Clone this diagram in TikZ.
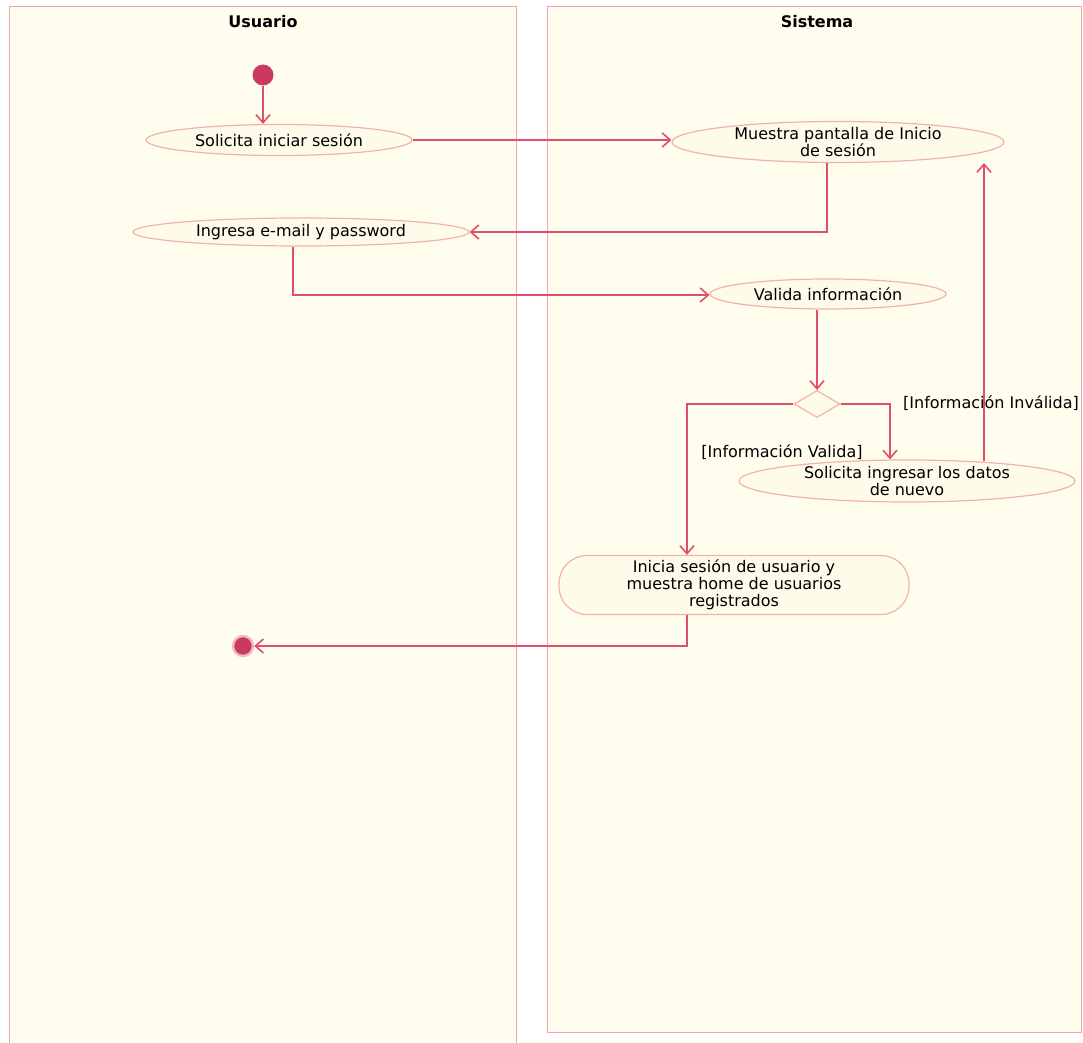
\documentclass[tikz,border=0pt]{standalone}
\usepackage{fontspec}
\setmainfont{DejaVu Sans}
\usetikzlibrary{shapes.geometric,arrows.meta,calc}
\definecolor{lanefill}{HTML}{FFFDEE}
\definecolor{lanedraw}{HTML}{F2A2B4}
\definecolor{conn}{HTML}{E04E6C}
\definecolor{nodedraw}{HTML}{F3B2A6}
\definecolor{nodefill}{HTML}{FFFBEA}
\definecolor{dotcol}{HTML}{C93A5E}
\definecolor{ringcol}{HTML}{F4B8C4}
\begin{document}
\begin{tikzpicture}[x=0.5pt,y=-0.5pt,
  lane/.style={draw=lanedraw,fill=lanefill,line width=0.5pt},
  lanetitle/.style={font=\bfseries\fontsize{8}{9}\selectfont,inner sep=0pt},
  act/.style={ellipse,draw=nodedraw,fill=nodefill,line width=0.6pt,align=center,
    inner xsep=0pt,inner ysep=-2pt,font=\fontsize{8}{8.6}\selectfont},
  actbox/.style={rectangle,rounded corners=14pt,draw=nodedraw,fill=nodefill,line width=0.6pt,
    align=center,inner sep=0pt,font=\fontsize{8}{8.6}\selectfont},
  decision/.style={diamond,draw=nodedraw,fill=nodefill,line width=0.6pt,inner sep=0pt,
    minimum width=23pt,minimum height=13.5pt},
  startdot/.style={circle,fill=dotcol,inner sep=0pt,minimum size=10.5pt},
  enddot/.style={circle,fill=dotcol,draw=ringcol,line width=1.2pt,inner sep=0pt,minimum size=10pt},
  guard/.style={inner sep=1pt,font=\fontsize{8}{8.6}\selectfont},
  flow/.style={draw=conn,line width=0.8pt,-{Straight Barb[length=4pt,width=7pt]}}]

\useasboundingbox (0,0) rectangle (1083,1043);
\fill[white] (0,0) rectangle (1083,1043);

% swimlanes
\draw[lane] (9,7) rectangle (516,1050);
\draw[lane] (547,7) rectangle (1081,1032);
\node[lanetitle] (tU) at (263,22) {Usuario};
\node[lanetitle] (tS) at (817,22) {Sistema};

% nodes
\node[startdot] (ini0) at (263,75) {};
\node[act,minimum width=133pt,minimum height=15.5pt] (sol) at (279,140) {Solicita iniciar sesión};
\node[act,minimum width=166pt,minimum height=20.5pt] (mue) at (838,142) {Muestra pantalla de Inicio\\de sesión};
\node[act,minimum width=168pt,minimum height=14pt] (ing) at (301,232) {Ingresa e-mail y password};
\node[act,minimum width=118pt,minimum height=15pt] (val) at (828,294) {Valida información};
\node[decision] (dia) at (817,404) {};
\node[act,minimum width=168pt,minimum height=21pt] (sin) at (907,481) {Solicita ingresar los datos\\de nuevo};
\node[actbox,minimum width=175pt,minimum height=29.5pt] (ini) at (734,585) {Inicia sesión de usuario y\\muestra home de usuarios\\registrados};
\node[enddot] (fin) at (243,646) {};

% guards
\node[guard] (gInv) at (991,403) {[Información Inválida]};
\node[guard] (gVal) at (782,452) {[Información Valida]};

% helper coordinates
\coordinate (cM) at (827,232);
\coordinate (cI) at (293,295);
\coordinate (cL) at (687,404);
\coordinate (cR) at (890,404);
\coordinate (cUp) at (984,404);
\coordinate (cE) at (687,646);

% connectors
\draw[flow] (ini0.south) -- (ini0.south |- sol.north);
\draw[flow] (sol.east) -- (sol.east -| mue.west);
\draw[flow] (cM |- mue.south) -- (cM) -- (ing.east);
\draw[flow] (cI |- ing.south) -- (cI) -- (cI -| val.west);
\draw[flow] (val.south -| dia.north) -- (dia.north);
\draw[flow] (dia.west) -- (cL) -- (cL |- ini.north);
\draw[flow] (dia.east) -- (cR) -- (cR |- sin.north);
\draw[flow] ($(cUp |- sin.north)+(0,2)$) -- (cUp |- mue.south);
\draw[flow] (cE |- ini.south) -- (cE) -- (fin.east);
\end{tikzpicture}
\end{document}
